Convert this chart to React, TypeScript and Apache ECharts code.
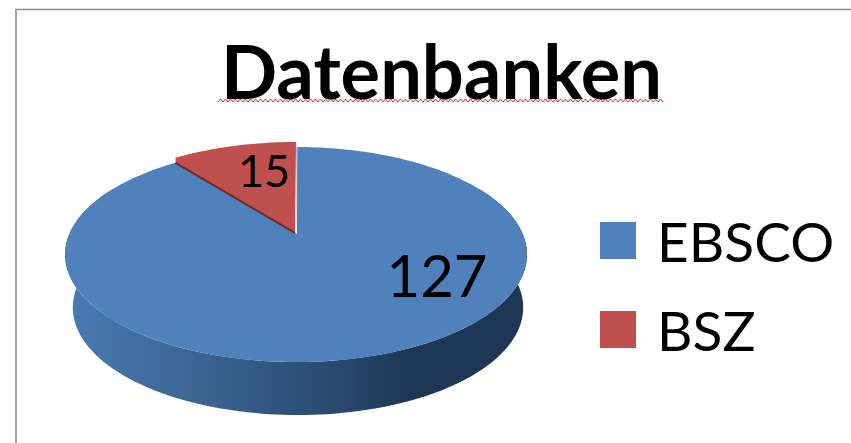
import React, { useEffect, useRef } from "react";
import * as echarts from "echarts";

const titleText = "Datenbanken";
const categories = ["EBSCO", "BSZ"];
const values = [127, 15];
const colors = ["#4F81BD", "#C0504D"];

const total = values.reduce((a, b) => a + b, 0);
const CX = 296;
const APEX_Y = 233;
const K = 0.2;
const RX = 226.3;
const RY = 103.2;
const DEPTH = 53;

function project(deg: number, opts: { sx?: number; dx?: number; dy?: number } = {}) {
  const t = (deg * Math.PI) / 180;
  const u = Math.sin(t);
  const v = -Math.cos(t);
  const d = 1 - K * v;
  return [CX + (opts.dx ?? 0) + ((opts.sx ?? 1) * RX * u) / d, APEX_Y + (opts.dy ?? 0) + (RY * v) / d];
}

function arc(from: number, to: number, opts: { sx?: number; dx?: number; dy?: number } = {}) {
  const pts: number[][] = [];
  const n = Math.max(2, Math.ceil(Math.abs(to - from) / 1.5));
  for (let i = 0; i <= n; i++) pts.push(project(from + ((to - from) * i) / n, opts));
  return pts;
}

const sliceStart = (i: number) => (values.slice(0, i).reduce((a, b) => a + b, 0) / total) * 360;

function renderEbsco(_: any, api: any) {
  const end = (api.value(0) / total) * 360;
  const wall = [...arc(62, 298, { sx: 0.975, dx: 2, dy: DEPTH }), ...arc(298, 62)];
  const top = [[CX + 1, APEX_Y + 1], ...arc(0, end)];
  return {
    type: "group",
    children: [
      {
        type: "polygon",
        shape: { points: wall },
        style: {
          fill: {
            type: "linear", x: 0, y: 0, x2: 1, y2: 0,
            colorStops: [
              { offset: 0, color: "#4A7AB2" },
              { offset: 0.3, color: "#3B6391" },
              { offset: 0.55, color: "#2B4C74" },
              { offset: 0.75, color: "#1F3655" },
              { offset: 1, color: "#1F3655" },
            ],
          },
        },
      },
      { type: "polygon", shape: { points: top }, style: { fill: colors[0] } },
      {
        type: "text",
        style: {
          text: String(api.value(0)), x: 437, y: 274, align: "center", verticalAlign: "middle",
          font: '58px Lato, "Open Sans", sans-serif', fill: "#000000",
        },
      },
    ],
  };
}

function renderBsz(_: any, api: any) {
  const start = sliceStart(1);
  const end = start + (api.value(0) / total) * 360;
  const apex = [CX - 1, APEX_Y];
  const corner = project(start);
  const rim = arc(start, end, { dy: -5 });
  return {
    type: "group",
    children: [
      { type: "polygon", shape: { points: [apex, corner, ...rim] }, style: { fill: colors[1] } },
      {
        type: "line",
        shape: { x1: apex[0], y1: apex[1], x2: corner[0], y2: corner[1] },
        style: { stroke: "#6E2A28", lineWidth: 2 },
      },
      {
        type: "line",
        shape: { x1: apex[0] + 1, y1: apex[1], x2: rim[rim.length - 1][0] + 1, y2: rim[rim.length - 1][1] },
        style: { stroke: "#E6D8D8", lineWidth: 1 },
      },
      {
        type: "text",
        style: {
          text: String(api.value(0)), x: 264, y: 170, align: "center", verticalAlign: "middle",
          font: '45px Lato, "Open Sans", sans-serif', fill: "#000000",
        },
      },
    ],
  };
}

function zigzag() {
  const pts: number[][] = [];
  for (let x = 218, i = 0; x <= 663; x += 2.5, i++) pts.push([x, i % 2 ? 99 : 102]);
  return pts;
}

export default function App() {
  const ref = useRef<HTMLDivElement>(null);
  useEffect(() => {
    const chart = echarts.init(ref.current!, undefined, { renderer: "svg" });
    chart.setOption({
      animation: false,
      backgroundColor: "#ffffff",
      title: {
        text: titleText,
        left: 216,
        top: 28,
        textStyle: { fontFamily: "Lato", fontWeight: "bold", fontSize: 74, color: "#000000" },
      },
      legend: {
        orient: "vertical",
        padding: 0,
        left: 600,
        top: 213,
        itemWidth: 36,
        itemHeight: 37,
        itemGap: 34,
        icon: "rect",
        data: categories,
        textStyle: { fontFamily: "Lato", fontSize: 55, color: "#000000", lineHeight: 37, padding: [0, 0, 3, 16] },
      },
      graphic: [
        { type: "line", shape: { x1: 15, y1: 9.5, x2: 851, y2: 9.5 }, style: { stroke: "#8C8C8C", lineWidth: 1.5 } },
        { type: "line", shape: { x1: 16, y1: 9, x2: 16, y2: 443 }, style: { stroke: "#A0A0A0", lineWidth: 2 } },
        { type: "polyline", shape: { points: zigzag() }, style: { stroke: "#F0282C", lineWidth: 1, fill: "none" } },
      ],
      series: [
        { type: "custom", name: categories[0], coordinateSystem: "none", renderItem: renderEbsco, data: [[values[0]]], itemStyle: { color: colors[0] }, silent: true },
        { type: "custom", name: categories[1], coordinateSystem: "none", renderItem: renderBsz, data: [[values[1]]], itemStyle: { color: colors[1] }, silent: true },
      ],
    });
    return () => chart.dispose();
  }, []);
  return <div ref={ref} style={{ position: "absolute", left: 0, top: 0, width: 851, height: 443 }} />;
}
